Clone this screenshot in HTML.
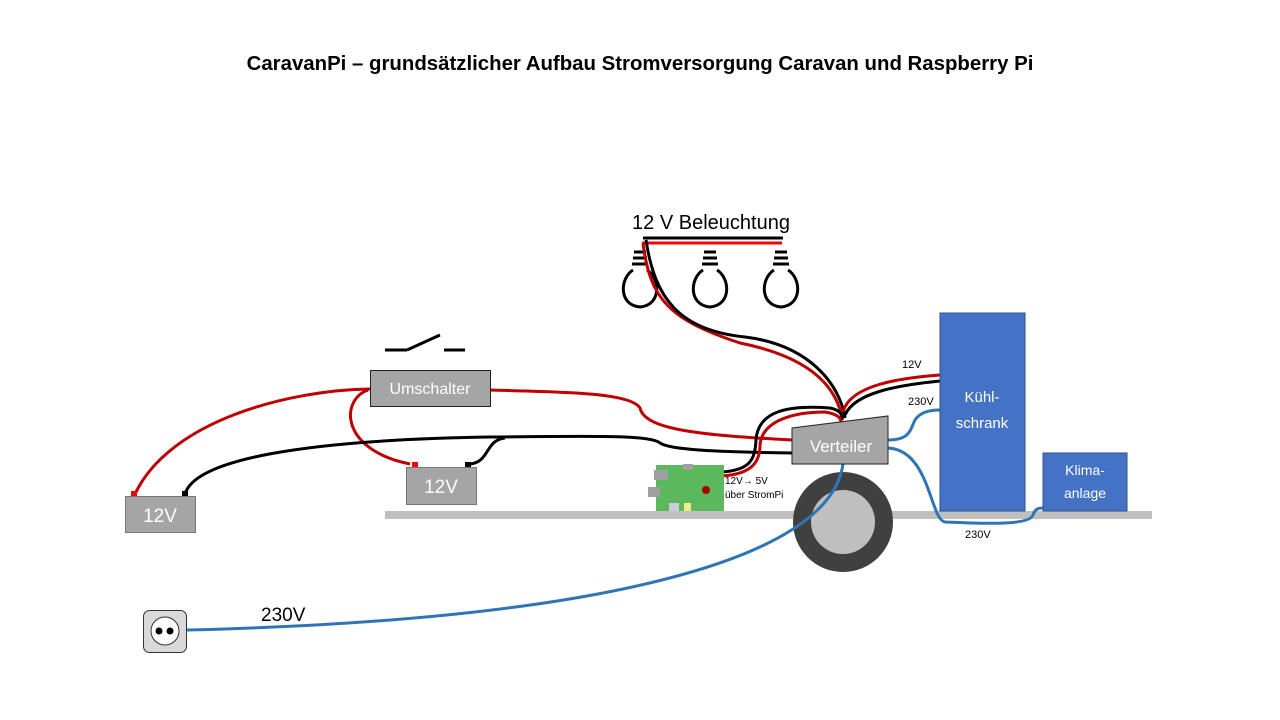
<!DOCTYPE html>
<html><head><meta charset="utf-8"><style>
body{margin:0;background:#fff}
svg{display:block;font-family:"Liberation Sans",sans-serif}
</style></head><body>
<svg width="1280" height="720" viewBox="0 0 1280 720" xmlns="http://www.w3.org/2000/svg">
<text x="640" y="70" text-anchor="middle" font-size="20.4" font-weight="bold">CaravanPi – grundsätzlicher Aufbau Stromversorgung Caravan und Raspberry Pi</text>
<text x="711" y="229" text-anchor="middle" font-size="20">12 V Beleuchtung</text>
<line x1="643" y1="238" x2="783" y2="238" stroke="#000" stroke-width="3"/>
<line x1="642" y1="243" x2="782" y2="243" stroke="#f00" stroke-width="3"/>
<g fill="none" stroke="#000" stroke-width="3">
 <g id="b"><path d="M634 252h12M633 258h14M632 264h16M633 270 C620 278 618 305 640 307 C662 305 660 278 647 270"/></g>
 <use href="#b" x="70"/><use href="#b" x="141"/>
</g>
<rect x="385" y="511" width="767" height="8" fill="#bfbfbf"/>
<circle cx="843" cy="522" r="50" fill="#404040"/>
<circle cx="843" cy="522" r="32" fill="#bfbfbf"/>
<g fill="none" stroke-width="3">
 <path d="M643 243 C650 300 670 320 740 343 C800 355 835 380 842 418" stroke="#c00000"/>
 <path d="M646 240 C655 300 680 330 745 337 C810 345 840 385 845 418" stroke="#000"/>
 <path d="M843 412 C850 385 900 378 940 375" stroke="#c00000"/>
 <path d="M845 415 C855 392 900 385 940 381" stroke="#000"/>
 <path d="M490 390 C560 392 630 392 640 408 C645 430 700 435 792 440" stroke="#c00000"/>
 <path d="M370 389 C290 390 170 420 135 494" stroke="#c00000"/>
 <path d="M368 390 C340 400 340 450 410 464" stroke="#c00000"/>
 <path d="M185 494 C195 460 300 440 490 437 C600 436 650 435 660 443 C670 450 720 452 792 453" stroke="#000"/>
 <path d="M470 464 C490 462 485 440 505 438" stroke="#000"/>
 <path d="M722 472 C750 470 755 460 756 440 C758 410 790 405 830 408 C840 410 843 415 842 420" stroke="#000"/>
 <path d="M722 476 C752 474 760 462 760 445 C762 420 795 412 825 412 C837 414 841 418 841 422" stroke="#c00000"/>
 <g stroke="#2e75b6">
  <path d="M888 440 C910 440 910 430 915 420 C920 412 930 410 940 410"/>
  <path d="M888 448 C930 450 930 520 945 522 C990 524 1030 525 1033 515 C1035 508 1040 508 1043 508"/>
  <path d="M843 464 C830 560 600 620 187 630"/>
 </g>
</g>
<rect x="131" y="491" width="6" height="6" fill="#f00"/>
<rect x="182" y="491" width="6" height="6" fill="#000"/>
<rect x="412" y="462" width="6" height="6" fill="#f00"/>
<rect x="465" y="462" width="6" height="6" fill="#000"/>
<g stroke="#000" stroke-width="3"><line x1="385" y1="350" x2="407" y2="350"/><line x1="407" y1="350" x2="440" y2="335"/><line x1="444" y1="350" x2="465" y2="350"/></g>
<rect x="370.5" y="370.5" width="120" height="36" fill="#a5a5a5" stroke="#222"/>
<text x="430" y="394" text-anchor="middle" font-size="16" fill="#fff">Umschalter</text>
<rect x="125.5" y="496.5" width="70" height="36" fill="#a5a5a5" stroke="#777"/>
<text x="160" y="522" text-anchor="middle" font-size="19" fill="#fff">12V</text>
<rect x="406.5" y="467.5" width="70" height="37" fill="#a5a5a5" stroke="#777"/>
<text x="441" y="493" text-anchor="middle" font-size="19" fill="#fff">12V</text>
<polygon points="792,428 888,416 888,464 792,464" fill="#a5a5a5" stroke="#222"/>
<text x="841" y="452" text-anchor="middle" font-size="17" fill="#fff">Verteiler</text>
<rect x="940" y="313" width="85" height="198" fill="#4472c4" stroke="#2f528f"/>
<text x="982" y="402" text-anchor="middle" font-size="15" fill="#fff">Kühl-</text>
<text x="982" y="428" text-anchor="middle" font-size="15" fill="#fff">schrank</text>
<rect x="1043" y="453" width="84" height="58" fill="#4472c4" stroke="#2f528f"/>
<text x="1085" y="475" text-anchor="middle" font-size="14" fill="#fff">Klima-</text>
<text x="1085" y="498" text-anchor="middle" font-size="14" fill="#fff">anlage</text>
<rect x="656" y="465" width="68" height="46" fill="#5cb85c"/>
<rect x="654" y="470" width="14" height="10" fill="#a0a0a0"/>
<rect x="648" y="487" width="12" height="10" fill="#a0a0a0"/>
<rect x="683" y="464" width="10" height="6" fill="#a0a0a0"/>
<rect x="669" y="503" width="10" height="8" fill="#ccd"/>
<rect x="684" y="503" width="7" height="8" fill="#ee8"/>
<circle cx="706" cy="490" r="4" fill="#a00"/>
<text x="725" y="484" font-size="10">12V→ 5V</text>
<text x="725" y="498" font-size="10">über StromPi</text>
<text x="902" y="368" font-size="11">12V</text>
<text x="908" y="405" font-size="11">230V</text>
<text x="965" y="538" font-size="11">230V</text>
<text x="261" y="621" font-size="19">230V</text>
<rect x="143.5" y="610.5" width="43" height="42" rx="6" fill="#d9d9d9" stroke="#333"/>
<circle cx="165" cy="631" r="14" fill="#fff" stroke="#333"/>
<circle cx="159" cy="631" r="3.5" fill="#000"/><circle cx="170" cy="631" r="3.5" fill="#000"/>
</svg>
</body></html>
